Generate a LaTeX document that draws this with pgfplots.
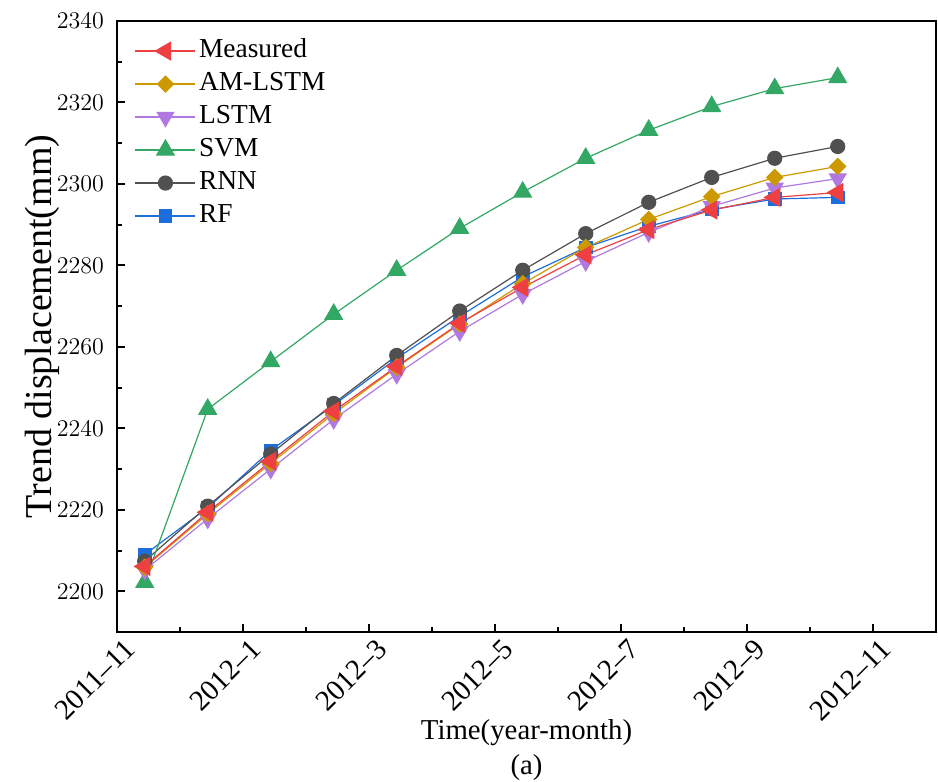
\documentclass[border=0pt]{standalone}
\usepackage{pgfplots}
\pgfplotsset{compat=1.18}
\usepackage{fontspec}
\setmainfont{Liberation Serif}
\definecolor{cMeas}{RGB}{238,64,64}
\definecolor{cAM}{RGB}{204,153,0}
\definecolor{cLSTM}{RGB}{176,120,224}
\definecolor{cSVM}{RGB}{50,168,100}
\definecolor{cRNN}{RGB}{80,80,80}
\definecolor{cRF}{RGB}{28,110,220}
\begin{document}
\begin{tikzpicture}
\path[use as bounding box] (-58.5pt,-75pt) rectangle (410.5pt,316pt);
\begin{axis}[
  scale only axis, width=409.5pt, height=305.5pt,
  at={(0,0)}, anchor=south west,
  xmin=0, xmax=13, ymin=2190, ymax=2340,
  xtick={0,2,4,6,8,10,12},
  xticklabels={2011--11,2012--1,2012--3,2012--5,2012--7,2012--9,2012--11},
  minor xtick={1,3,5,7,9,11,13},
  ytick={2200,2220,2240,2260,2280,2300,2320,2340},
  minor ytick={2190,2210,2230,2250,2270,2290,2310,2330},
  tick align=inside, xtick pos=bottom, ytick pos=left,
  major tick length=4pt, minor tick length=2.5pt,
  every tick/.style={black, line width=1pt},
  axis line style={line width=1.3pt},
  yticklabel style={font=\fontsize{11.7}{14}\selectfont, xshift=-3pt},
  xticklabel style={font=\fontsize{14.5}{17}\selectfont, xshift=3pt, yshift=-1pt, rotate=45, anchor=north east, inner sep=1pt},
  y tick label style={/pgf/number format/.cd, 1000 sep={}},
  xlabel={Time(year-month)},
  ylabel={Trend displacement(mm)},
  xlabel style={at={(axis description cs:0.5,-0.1640)}, anchor=center, font=\fontsize{14.4}{17}\selectfont},
  ylabel style={at={(axis description cs:-0.091,0.5)}, anchor=center, font=\fontsize{19}{22}\selectfont},
  reverse legend,
  legend style={at={(axis description cs:0.014,0.985)}, anchor=north west, draw=none, fill=none,
    font=\fontsize{13.7}{16}\selectfont, row sep=0pt,
    nodes={inner sep=1.5pt, text height=10pt, text depth=3.5pt}},
  legend cell align=left,
  legend image code/.code={\draw[mark repeat=2,mark phase=2] plot coordinates {(0pt,0pt) (15pt,0pt) (30pt,0pt)};},
  every axis plot/.append style={line width=0.6pt},
  clip=false,
]
\addplot[cRF, mark=square*, mark size=3.1pt, mark options={fill=cRF, draw=cRF}] coordinates {
(0.44,2209.0) (1.44,2220.5) (2.44,2234.6) (3.44,2245.7) (4.44,2257.2) (5.44,2267.5)
(6.44,2277.2) (7.44,2284.4) (8.44,2289.6) (9.44,2293.7) (10.44,2296.3) (11.44,2296.7)};
\addlegendentry{RF}
\addplot[cRNN, mark=*, mark size=3.5pt, mark options={fill=cRNN, draw=cRNN}] coordinates {
(0.44,2207.4) (1.44,2220.9) (2.44,2233.7) (3.44,2246.1) (4.44,2257.9) (5.44,2268.8)
(6.44,2278.8) (7.44,2287.8) (8.44,2295.5) (9.44,2301.6) (10.44,2306.3) (11.44,2309.2)};
\addlegendentry{RNN}
\addplot[cSVM, mark=triangle*, mark size=5pt, mark options={fill=cSVM, draw=cSVM}] coordinates {
(0.44,2202.2) (1.44,2244.7) (2.44,2256.4) (3.44,2268.0) (4.44,2278.8) (5.44,2289.1)
(6.44,2298.0) (7.44,2306.3) (8.44,2313.2) (9.44,2319.0) (10.44,2323.4) (11.44,2326.1)};
\addlegendentry{SVM}
\addplot[cLSTM, mark=triangle*, mark size=4.7pt, mark options={fill=cLSTM, draw=cLSTM, rotate=180}] coordinates {
(0.44,2205.2) (1.44,2217.8) (2.44,2230.0) (3.44,2242.2) (4.44,2253.3) (5.44,2263.8)
(6.44,2272.9) (7.44,2281.0) (8.44,2288.1) (9.44,2294.5) (10.44,2299.0) (11.44,2301.3)};
\addlegendentry{LSTM}
\addplot[cAM, mark=square*, mark size=2.8pt, mark options={fill=cAM, draw=cAM, rotate=45}] coordinates {
(0.44,2205.9) (1.44,2219.0) (2.44,2231.4) (3.44,2243.6) (4.44,2255.0) (5.44,2265.6)
(6.44,2275.5) (7.44,2284.4) (8.44,2291.3) (9.44,2296.9) (10.44,2301.6) (11.44,2304.3)};
\addlegendentry{AM-LSTM}
\addplot[cMeas, mark=triangle*, mark size=5pt, mark options={fill=cMeas, draw=cMeas, rotate=90}] coordinates {
(0.44,2206.1) (1.44,2219.4) (2.44,2231.9) (3.44,2244.2) (4.44,2255.2) (5.44,2265.8)
(6.44,2274.6) (7.44,2282.6) (8.44,2288.8) (9.44,2293.6) (10.44,2296.7) (11.44,2297.9)};
\addlegendentry{Measured}
\node[font=\fontsize{14.4}{17}\selectfont] at (axis description cs:0.5,-0.2227) {(a)};
\end{axis}
\end{tikzpicture}
\end{document}
